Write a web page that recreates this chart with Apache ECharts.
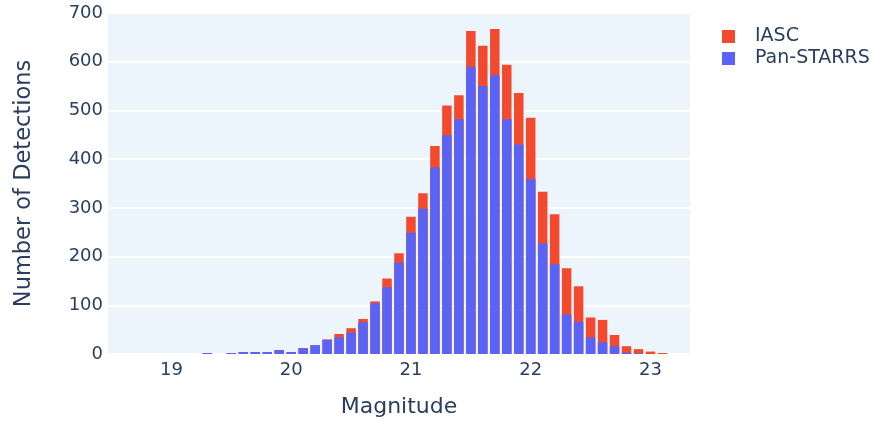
<!DOCTYPE html>
<html>
<head>
<meta charset="utf-8">
<script src="https://cdn.jsdelivr.net/npm/echarts@6/dist/echarts.min.js"></script>
<style>
  html, body { margin: 0; padding: 0; background: #fff; }
  #chart { width: 876px; height: 423px; }
</style>
</head>
<body>
<div id="chart"></div>
<script>
// histogram bins (magnitude, bin width 0.1)
var magnitudes = [19.3, 19.4, 19.5, 19.6, 19.7, 19.8, 19.9, 20.0, 20.1, 20.2,
    20.3, 20.4, 20.5, 20.6, 20.7, 20.8, 20.9, 21.0, 21.1, 21.2,
    21.3, 21.4, 21.5, 21.6, 21.7, 21.8, 21.9, 22.0, 22.1, 22.2,
    22.3, 22.4, 22.5, 22.6, 22.7, 22.8, 22.9, 23.0, 23.1];
var panStarrs = [2, 0, 2, 4, 4, 4, 8, 4, 12, 18,
    29, 34, 44, 65, 104, 137, 188, 249, 298, 383,
    449, 482, 589, 550, 572, 482, 430, 359, 227, 184,
    81, 66, 34, 24, 16, 3, 1, 0, 0];
var iasc = [0, 0, 0, 0, 0, 0, 0, 0, 0, 0,
    1, 7, 9, 7, 4, 18, 19, 33, 32, 44,
    61, 49, 74, 83, 95, 112, 106, 126, 106, 103,
    95, 73, 41, 46, 23, 13, 9, 5, 2];
var xTicks = [19, 20, 21, 22, 23];

var textColor = '#2a3f5f';
var fontFamily = 'DejaVu Sans';

// IASC sits on top of Pan-STARRS: draw it as the full stack height behind the blue bars
var panData = magnitudes.map(function (m, i) { return [m, panStarrs[i]]; });
var iascData = magnitudes.map(function (m, i) { return [m, panStarrs[i] + iasc[i]]; });

var chart = echarts.init(document.getElementById('chart'));
chart.setOption({
    animation: false,
    textStyle: { fontFamily: fontFamily },
    grid: { left: 108, right: 186, top: 13, bottom: 68 },
    legend: {
        orient: 'vertical',
        left: 722,
        top: 27,
        padding: 0,
        itemWidth: 13,
        itemHeight: 13,
        itemGap: 3,
        icon: 'rect',
        data: ['IASC', 'Pan-STARRS'],
        textStyle: { color: textColor, fontSize: 19, fontFamily: fontFamily, padding: [0, 0, 0, 15] }
    },
    xAxis: {
        type: 'value',
        min: 18.47,
        max: 23.33,
        name: 'Magnitude',
        nameLocation: 'middle',
        nameGap: 42,
        nameTextStyle: { color: textColor, fontSize: 22, fontFamily: fontFamily },
        axisLine: { show: false },
        axisTick: { show: false },
        splitLine: { show: false },
        axisLabel: {
            customValues: xTicks,
            color: textColor,
            fontSize: 18,
            margin: 7
        }
    },
    yAxis: {
        type: 'value',
        min: 0,
        max: 700,
        interval: 100,
        name: 'Number of Detections',
        nameLocation: 'middle',
        nameGap: 72,
        nameTextStyle: { color: textColor, fontSize: 22.5, fontFamily: fontFamily },
        axisLine: { show: false },
        axisTick: { show: false },
        axisLabel: { color: textColor, fontSize: 18, margin: 5 },
        splitLine: { lineStyle: { color: '#ffffff', width: 2 } }
    },
    series: [
        {
            name: 'IASC',
            type: 'bar',
            barWidth: 9.5,
            barGap: '-100%',
            itemStyle: { color: '#f34a2f' },
            data: iascData
        },
        {
            name: 'Pan-STARRS',
            type: 'bar',
            barWidth: 9.5,
            barGap: '-100%',
            z: 3,
            itemStyle: { color: '#5b62f6' },
            data: panData
        }
    ],
    graphic: [{
        type: 'rect',
        z: -1,
        shape: { x: 108, y: 13, width: 582, height: 342 },
        style: { fill: '#ecf5fc' }
    }]
});
</script>
</body>
</html>
